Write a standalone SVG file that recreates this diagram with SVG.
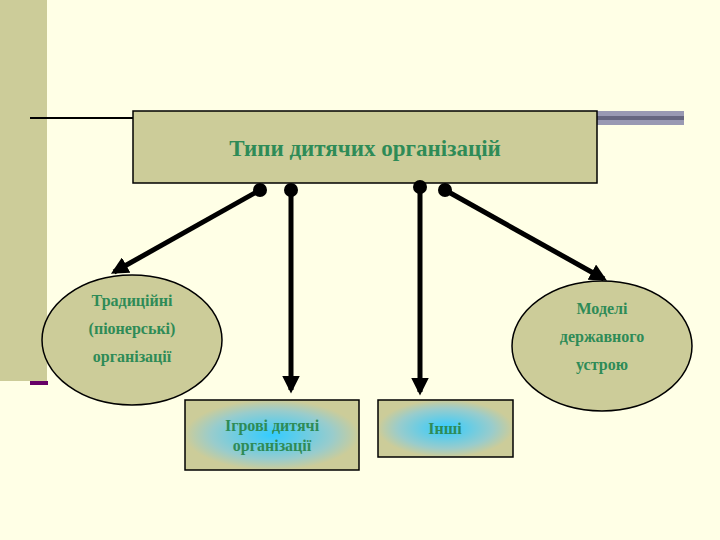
<svg xmlns="http://www.w3.org/2000/svg" width="720" height="540" viewBox="0 0 720 540">
<style>
.n{fill:#CCCC99;stroke:#000;stroke-width:1.5}
.t{font-family:"Liberation Serif",serif;font-weight:bold;fill:#2E8B57;text-anchor:middle}
.c{stroke:#000;stroke-width:5;fill:none;marker-end:url(#ah)}
</style>
<defs>
<marker id="ah" viewBox="0 0 10 10" refX="8" refY="5" markerWidth="3.5" markerHeight="3.5" orient="auto"><path d="M0,0L10,5L0,10z" fill="#000"/></marker>
<radialGradient id="g"><stop offset="0" stop-color="#33CCFF"/><stop offset="0.7" stop-color="#99CCCC"/><stop offset="1" stop-color="#CCCC99"/></radialGradient>
</defs>
<rect width="720" height="540" fill="#FFFFE6"/>
<rect x="0" y="0" width="47" height="381" fill="#CCCC99"/>
<rect x="30" y="381" width="18" height="4" fill="#660066"/>
<line x1="30" y1="118" x2="134" y2="118" stroke="#000" stroke-width="2"/>
<rect x="597" y="111" width="87" height="14" fill="#9999B3"/>
<rect x="597" y="116" width="87" height="4" fill="#666680"/>
<g id="root"><rect class="n" x="133" y="111" width="464" height="72"/><text class="t" x="365" y="156" font-size="23">Типи дитячих організацій</text></g>
<g id="trad"><ellipse class="n" cx="132" cy="340" rx="90" ry="65"/><text class="t" x="132" y="306" font-size="16"><tspan x="132">Традиційні</tspan><tspan x="132" dy="28">(піонерські)</tspan><tspan x="132" dy="28">організації</tspan></text></g>
<g id="model"><ellipse class="n" cx="602" cy="346" rx="90" ry="65"/><text class="t" font-size="16"><tspan x="602" y="314">Моделі</tspan><tspan x="602" dy="28">державного</tspan><tspan x="602" dy="28">устрою</tspan></text></g>
<g id="games"><rect x="185" y="400" width="174" height="70" fill="url(#g)" stroke="#000" stroke-width="1.5"/><text class="t" font-size="16"><tspan x="272" y="431">Ігрові дитячі</tspan><tspan x="272" dy="20">організації</tspan></text></g>
<g id="other"><rect x="378" y="400" width="135" height="57" fill="url(#g)" stroke="#000" stroke-width="1.5"/><text class="t" x="445" y="434" font-size="16">Інші</text></g>
<g id="connectors">
<circle cx="260" cy="190" r="7"/><circle cx="291" cy="190" r="7"/><circle cx="420" cy="187" r="7"/><circle cx="445" cy="190" r="7"/>
<line class="c" x1="260" y1="190" x2="114" y2="272"/>
<line class="c" x1="291" y1="190" x2="291" y2="390"/>
<line class="c" x1="420" y1="187" x2="420" y2="392"/>
<line class="c" x1="445" y1="190" x2="604" y2="279"/>
</g>
</svg>
